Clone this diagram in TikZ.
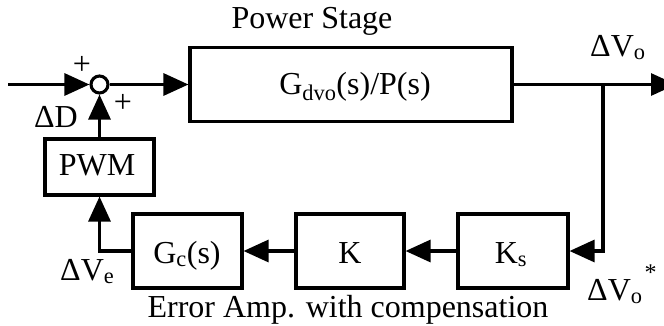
\documentclass[tikz,border=0pt]{standalone}
\usepackage{fontspec}
\setmainfont{Liberation Serif}
\usetikzlibrary{arrows.meta}
\begin{document}
\begin{tikzpicture}[x=1pt,y=-1pt,
  every node/.style={font=\fontsize{32}{35}\selectfont},
  blk/.style={draw,line width=3.1pt,inner sep=0pt},
  lbl/.style={inner sep=0pt,anchor=base},
  arr/.style={line width=3.1pt,-{Triangle[length=25pt,width=22pt]}},
  ln/.style={line width=3.1pt}]
\clip (0,0) rectangle (664,325);
\useasboundingbox (0,0) rectangle (664,325);
% blocks
\node[draw,circle,line width=3.1pt,fill=white,minimum size=17pt,inner sep=0pt] (sum) at (99.5,84.5) {};
\node[blk,minimum width=322pt,minimum height=74pt] (PS) at (351,84.5) {};
\node[blk,minimum width=109pt,minimum height=56pt] (PWM) at (99.5,167) {};
\node[blk,minimum width=109pt,minimum height=74pt] (Gc) at (187.5,251) {};
\node[blk,minimum width=108pt,minimum height=74pt] (K) at (350,251) {};
\node[blk,minimum width=110pt,minimum height=74pt] (Ks) at (513,251) {};
% texts
\node[lbl] (tps) at (312,28) {Power Stage};
\node[lbl] (tg) at (355,94) {G\textsubscript{dvo}(s)/P(s)};
\node[lbl] (tpwm) at (97,175) {PWM};
\node[lbl] (tgc) at (187,263) {G\textsubscript{c}(s)};
\node[lbl] (tk) at (350,263) {K};
\node[lbl] (tks) at (511,263) {K\textsubscript{s}};
\node[lbl] (terr) at (348,317) {Error Amp. with compensation};
\node[lbl] (tdd) at (56,127) {ΔD};
\node[lbl,anchor=base west] (tve) at (60,280) {ΔV\textsubscript{e}};
\node[lbl,anchor=base west] (tvo) at (590,56) {ΔV\textsubscript{o}};
\node[lbl,anchor=base west] (tvos) at (587,300) {ΔV\textsubscript{o}\kern2pt\raisebox{0.6em}{\fontsize{24}{26}\selectfont *}};
\node[inner sep=0pt] (p1) at (82,65) {+};
\node[inner sep=0pt] (p2) at (123,103) {+};
% connectors
\coordinate (in) at (8,84.5);
\coordinate (out) at (676,84.5);
\coordinate (br) at (603,84.5);
\draw[arr] (in) -- (sum);
\draw[arr] (sum) -- (PS);
\draw[arr] (PS.east) -- (out);
\draw[arr] (br) |- (Ks.east);
\draw[arr] (Ks.west) -- (K.east);
\draw[arr] (K.west) -- (Gc.east);
\draw[arr] (Gc.west) -| (PWM.south);
\draw[arr] (PWM.north) -- (sum.south);
\end{tikzpicture}
\end{document}
